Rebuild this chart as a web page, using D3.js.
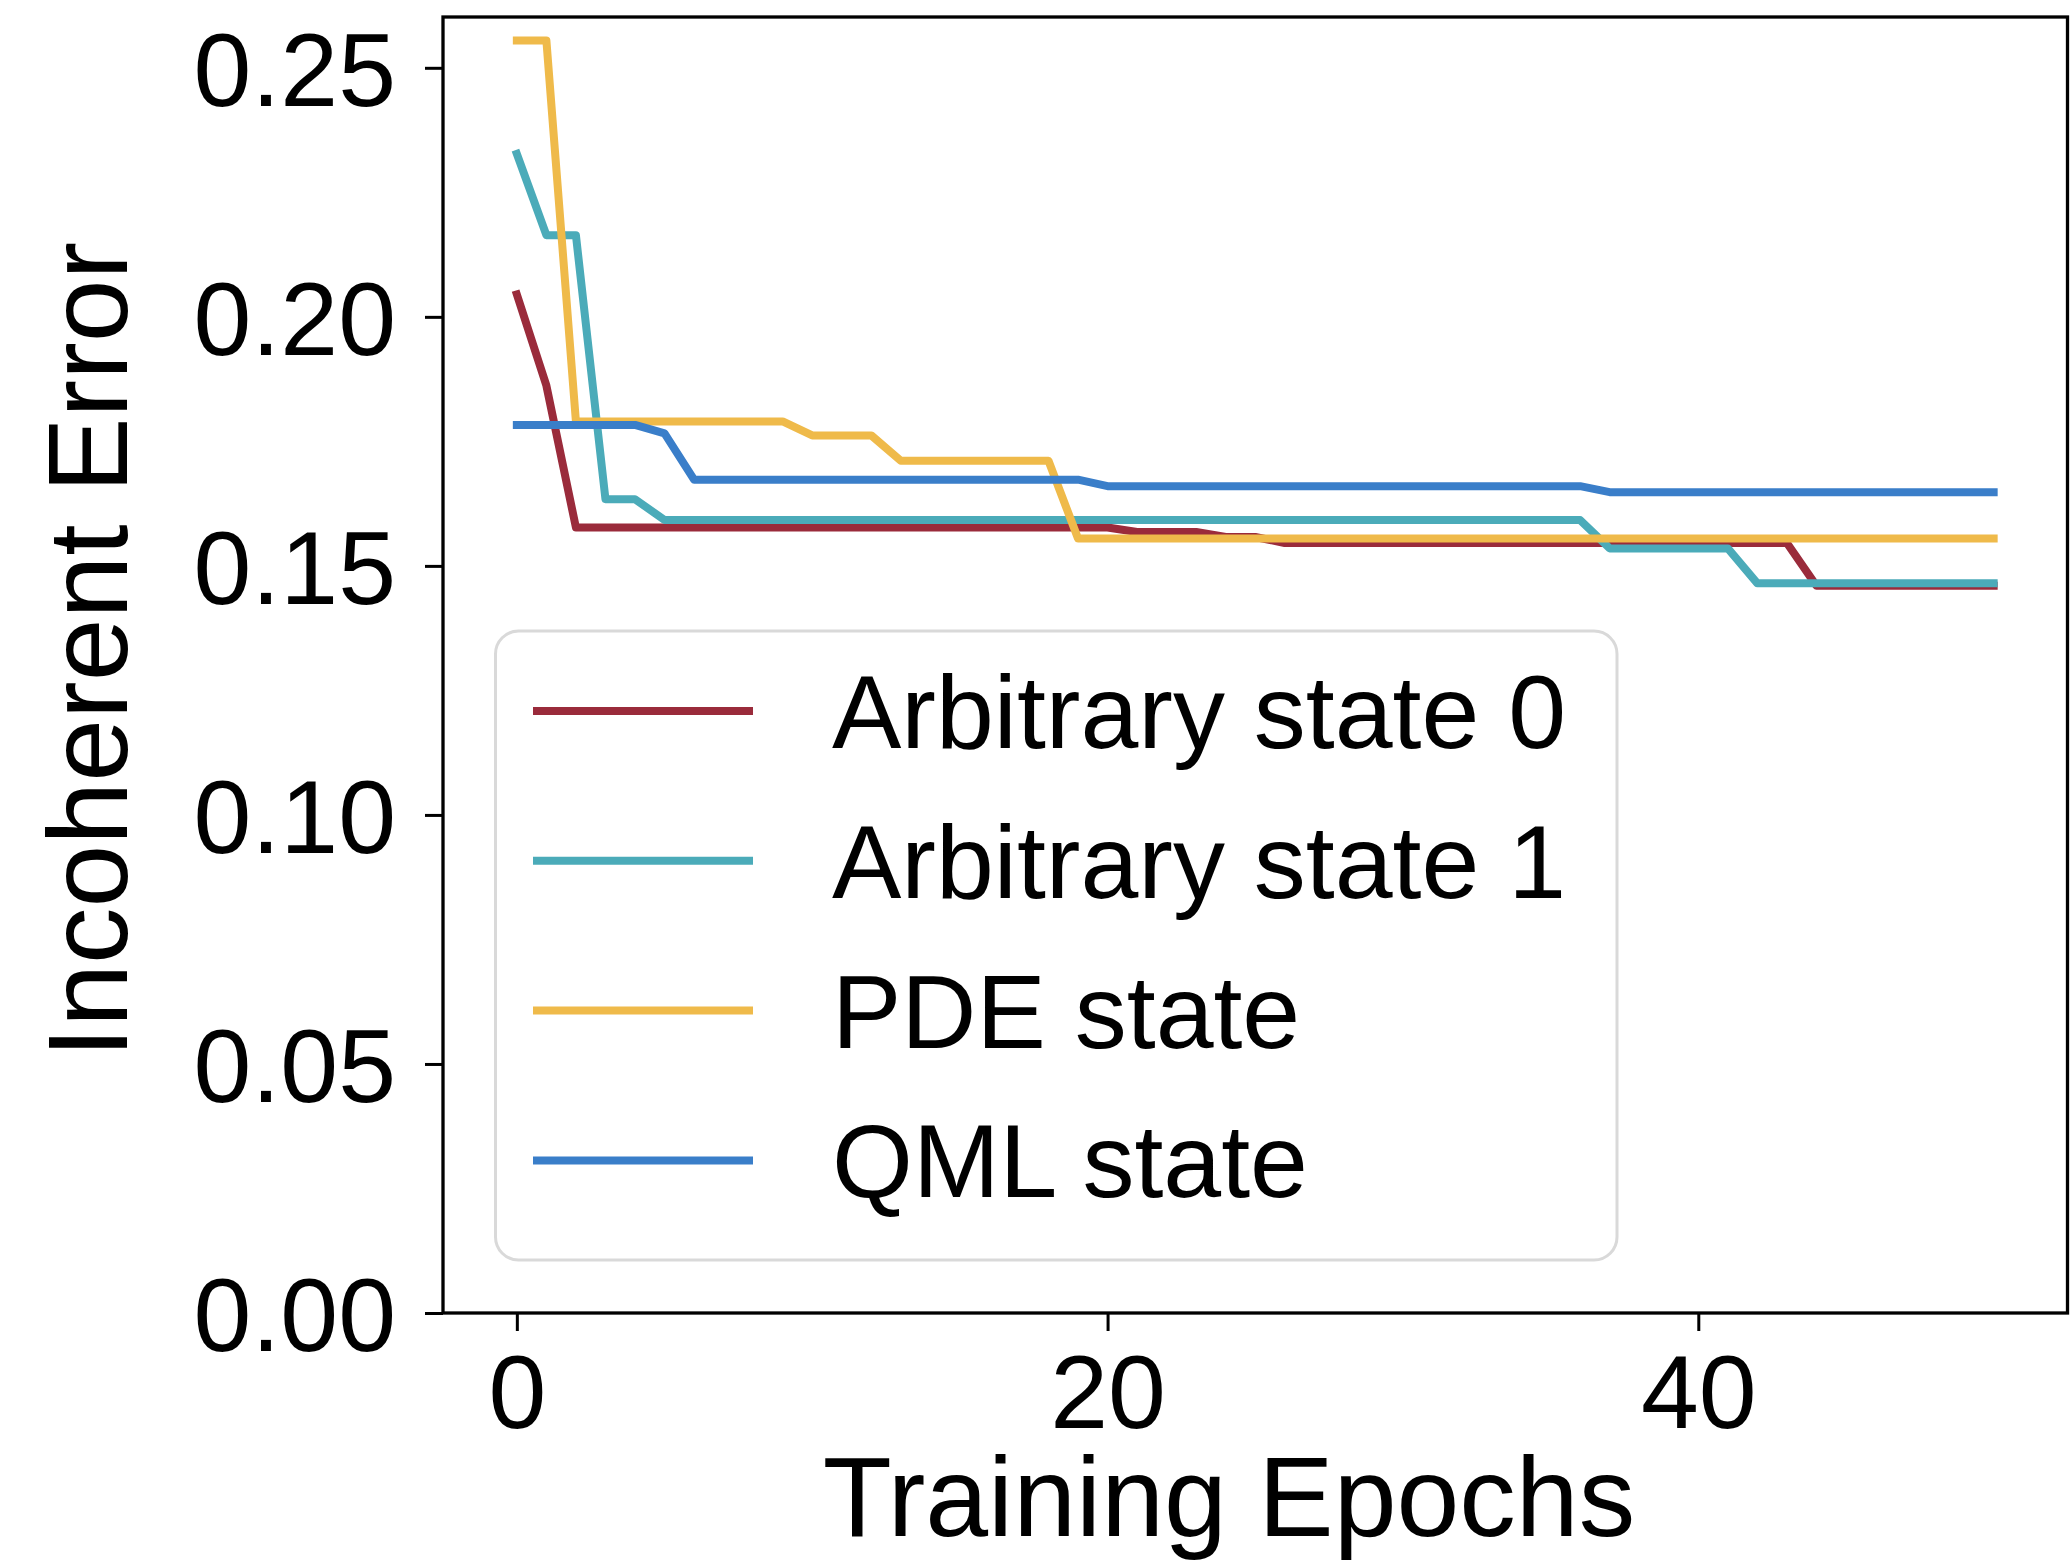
<!DOCTYPE html>
<html>
<head>
<meta charset="utf-8">
<script src="https://cdn.jsdelivr.net/npm/d3@7"></script>
<style>
  body { margin: 0; background: #fff; }
  text { font-family: "Liberation Sans", Arial, Helvetica, sans-serif; fill: #000; }
</style>
</head>
<body>
<svg id="chart" width="2070" height="1562"></svg>
<script>
// epochs 0..50
var epochs = d3.range(0, 51);

// values, one per epoch
var arbitrary0 = [
  0.2045, 0.1862, 0.1577, 0.1577, 0.1577, 0.1577, 0.1577, 0.1577, 0.1577, 0.1577,
  0.1577, 0.1577, 0.1577, 0.1577, 0.1577, 0.1577, 0.1577, 0.1577, 0.1577, 0.1577,
  0.1577, 0.1568, 0.1568, 0.1568, 0.1558, 0.1558, 0.1546, 0.1546, 0.1546, 0.1546,
  0.1546, 0.1546, 0.1546, 0.1546, 0.1546, 0.1546, 0.1546, 0.1546, 0.1546, 0.1546,
  0.1546, 0.1546, 0.1546, 0.1546, 0.1460, 0.1460, 0.1460, 0.1460, 0.1460, 0.1460,
  0.1460
];
var arbitrary1 = [
  0.2327, 0.2164, 0.2164, 0.1634, 0.1634, 0.1592, 0.1592, 0.1592, 0.1592, 0.1592,
  0.1592, 0.1592, 0.1592, 0.1592, 0.1592, 0.1592, 0.1592, 0.1592, 0.1592, 0.1592,
  0.1592, 0.1592, 0.1592, 0.1592, 0.1592, 0.1592, 0.1592, 0.1592, 0.1592, 0.1592,
  0.1592, 0.1592, 0.1592, 0.1592, 0.1592, 0.1592, 0.1592, 0.1535, 0.1535, 0.1535,
  0.1535, 0.1535, 0.1465, 0.1465, 0.1465, 0.1465, 0.1465, 0.1465, 0.1465, 0.1465,
  0.1465
];
var pdeState = [
  0.2555, 0.2555, 0.1790, 0.1790, 0.1790, 0.1790, 0.1790, 0.1790, 0.1790, 0.1790,
  0.1762, 0.1762, 0.1762, 0.1711, 0.1711, 0.1711, 0.1711, 0.1711, 0.1711, 0.1555,
  0.1555, 0.1555, 0.1555, 0.1555, 0.1555, 0.1555, 0.1555, 0.1555, 0.1555, 0.1555,
  0.1555, 0.1555, 0.1555, 0.1555, 0.1555, 0.1555, 0.1555, 0.1555, 0.1555, 0.1555,
  0.1555, 0.1555, 0.1555, 0.1555, 0.1555, 0.1555, 0.1555, 0.1555, 0.1555, 0.1555,
  0.1555
];
var qmlState = [
  0.1783, 0.1783, 0.1783, 0.1783, 0.1783, 0.1766, 0.1673, 0.1673, 0.1673, 0.1673,
  0.1673, 0.1673, 0.1673, 0.1673, 0.1673, 0.1673, 0.1673, 0.1673, 0.1673, 0.1673,
  0.1660, 0.1660, 0.1660, 0.1660, 0.1660, 0.1660, 0.1660, 0.1660, 0.1660, 0.1660,
  0.1660, 0.1660, 0.1660, 0.1660, 0.1660, 0.1660, 0.1660, 0.1648, 0.1648, 0.1648,
  0.1648, 0.1648, 0.1648, 0.1648, 0.1648, 0.1648, 0.1648, 0.1648, 0.1648, 0.1648,
  0.1648
];

var seriesNames = ['Arbitrary state 0', 'Arbitrary state 1', 'PDE state', 'QML state'];
var seriesColors = ['#9a2b3b', '#4babb9', '#efba4a', '#3a7ec9'];
var xTicks = [0, 20, 40];
var yTicks = [0.00, 0.05, 0.10, 0.15, 0.20, 0.25];

var svg = d3.select('#chart');

// axes box in pixels (note: `top` is taken by window.top, so prefix these)
var plotLeft = 443, plotRight = 2067.5, plotTop = 17, plotBottom = 1313;

var x = d3.scaleLinear().domain([-2.5, 52.5]).range([plotLeft, plotRight]);
var y = d3.scaleLinear().domain([0, 0.2602]).range([plotBottom, plotTop]);

var series = [arbitrary0, arbitrary1, pdeState, qmlState].map(function (vals, i) {
  return {
    name: seriesNames[i],
    color: seriesColors[i],
    values: epochs.map(function (e, j) { return { x: e, y: vals[j] }; })
  };
});

// lines
var line = d3.line()
  .x(function (d) { return x(d.x); })
  .y(function (d) { return y(d.y); });

svg.append('g').attr('class', 'lines')
  .selectAll('path')
  .data(series)
  .enter()
  .append('path')
  .attr('d', function (d) { return line(d.values); })
  .attr('fill', 'none')
  .attr('stroke', function (d) { return d.color; })
  .attr('stroke-width', 8)
  .attr('stroke-linejoin', 'round')
  .attr('stroke-linecap', 'square');

// axes, matplotlib style: outward ticks, big labels
var xAxis = d3.axisBottom(x).tickValues(xTicks).tickSize(18).tickPadding(14)
  .tickFormat(d3.format('d'));
var yAxis = d3.axisLeft(y).tickValues(yTicks).tickSize(18).tickPadding(29)
  .tickFormat(d3.format('.2f'));

var gx = svg.append('g')
  .attr('transform', 'translate(0,' + plotBottom + ')')
  .call(xAxis);
var gy = svg.append('g')
  .attr('transform', 'translate(' + plotLeft + ',0)')
  .call(yAxis);

[gx, gy].forEach(function (g) {
  g.select('.domain').remove();
  g.selectAll('.tick line').attr('stroke', '#000').attr('stroke-width', 3);
  g.selectAll('.tick text').style('font-size', '104px');
});
gx.selectAll('.tick text').attr('dy', null).attr('y', 115);
gy.selectAll('.tick text').attr('dy', '0.36em');

// frame (all four spines)
svg.append('rect')
  .attr('x', plotLeft)
  .attr('y', plotTop)
  .attr('width', plotRight - plotLeft)
  .attr('height', plotBottom - plotTop)
  .attr('fill', 'none')
  .attr('stroke', '#000')
  .attr('stroke-width', 3.3);

// axis titles
svg.append('text')
  .attr('x', 1229)
  .attr('y', 1536)
  .attr('text-anchor', 'middle')
  .style('font-size', '113px')
  .text('Training Epochs');

svg.append('text')
  .attr('transform', 'translate(127,650) rotate(-90)')
  .attr('text-anchor', 'middle')
  .style('font-size', '113px')
  .text('Incoherent Error');

// legend
var legend = svg.append('g').attr('class', 'legend');
legend.append('rect')
  .attr('x', 495.5)
  .attr('y', 631)
  .attr('width', 1617 - 495.5)
  .attr('height', 1260 - 631)
  .attr('rx', 23)
  .attr('fill', '#fff')
  .attr('fill-opacity', 0.8)
  .attr('stroke', '#d9d9d9')
  .attr('stroke-width', 3);

var rows = legend.selectAll('.row')
  .data(series)
  .enter()
  .append('g')
  .attr('class', 'row')
  .attr('transform', function (d, i) { return 'translate(0,' + (711 + i * 149.8) + ')'; });

rows.append('line')
  .attr('x1', 537)
  .attr('x2', 749)
  .attr('stroke', function (d) { return d.color; })
  .attr('stroke-width', 8)
  .attr('stroke-linecap', 'square');

rows.append('text')
  .attr('x', 832)
  .attr('y', 37)
  .style('font-size', '104px')
  .text(function (d) { return d.name; });
</script>
</body>
</html>
